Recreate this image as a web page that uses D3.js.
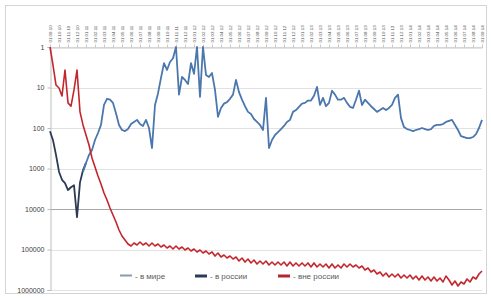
<!DOCTYPE html>
<html lang="ru">
<meta charset="utf-8">
<head>
<script src="https://d3js.org/d3.v7.min.js"></script>
<style>
  body { margin: 0; background: #fff; }
  svg text { font-family: "Liberation Sans", Arial, sans-serif; }
</style>
</head>
<body>
<div id="chart"></div>
<script>

// date labels on top axis (one every 3rd point)
var dateLabels = ["01.09.10","01.10.10","01.11.10","01.12.10","01.01.11","01.02.11","01.03.11","01.04.11",
  "01.05.11","01.06.11","01.07.11","01.08.11","01.09.11","01.10.11","01.11.11","01.12.11","01.01.12",
  "01.02.12","01.03.12","01.04.12","01.05.12","01.06.12","01.07.12","01.08.12","01.09.12","01.10.12",
  "01.11.12","01.12.12","01.01.13","01.02.13","01.03.13","01.04.13","01.05.13","01.06.13","01.07.13",
  "01.08.13","01.09.13","01.10.13","01.11.13","01.12.13","01.01.14","01.02.14","01.03.14","01.04.14",
  "01.05.14","01.06.14","01.07.14","01.08.14","01.09.14"]

var yTicks = [1, 10, 100, 1000, 10000, 100000, 1000000]
var seriesNames = ["- в мире", "- в россии", "- вне россии"]

// blue line, starts at point 11
var blueStart = 11
var blue = [1220, 731, 464, 349, 198, 133, 84, 27, 19, 20, 24, 43, 84, 112, 119, 106, 80, 71, 63, 80,
  89, 63, 100, 312, 27, 14, 5.8, 2.5, 3.7, 2.35, 1.9, 1, 15, 5.5, 6.5, 8.2, 2.5, 4.6, 1, 17,
  1, 4.9, 5.5, 4.4, 11.5, 53, 32, 25, 23, 19, 15, 6.5, 13, 20, 29, 40, 45, 60, 71, 84,
  112, 18, 312, 198, 149, 126, 106, 89, 71, 63, 40, 36, 30, 25, 24, 21, 21, 16, 9.7, 27,
  18, 29, 24, 12, 15, 20, 20, 18, 24, 30, 32, 20, 12, 27, 20, 24, 29, 34, 40, 36,
  32, 36, 32, 27, 18, 15, 57, 95, 106, 112, 119, 112, 106, 100, 106, 112, 106, 89, 84, 84,
  80, 71, 67, 63, 84, 112, 158, 167, 177, 177, 167, 141, 100, 63]

// dark line, points 0..12
var dark = [120, 200, 460, 1200, 1900, 2300, 3400, 2900, 2600, 16000, 2200, 1100, 730]

// red line, all points
var red = [1, 2.8, 8.7, 10.3, 16.2, 3.7, 24, 29, 11.5, 3.7, 40, 84, 149, 263, 550, 918, 1531, 2414, 4027, 5998,
  9444, 14060, 20940, 33000, 46400, 58300, 73100, 82000, 69100, 77500, 65300, 77500, 69100, 82000, 69100, 82000, 73100, 86700, 77500, 91800,
  82000, 97100, 82000, 97100, 86700, 103000, 91800, 109000, 97100, 115000, 103000, 122000, 109000, 129000, 115000, 145000, 122000, 153000, 137000, 162000,
  145000, 172000, 153000, 192000, 162000, 204000, 172000, 215000, 182000, 228000, 192000, 228000, 192000, 241000, 204000, 241000, 204000, 241000, 204000, 255000,
  204000, 255000, 215000, 255000, 215000, 255000, 215000, 270000, 215000, 270000, 228000, 270000, 228000, 286000, 228000, 286000, 241000, 286000, 228000, 270000,
  228000, 270000, 241000, 286000, 255000, 321000, 286000, 359000, 321000, 403000, 359000, 451000, 380000, 478000, 403000, 478000, 403000, 506000, 426000, 506000,
  426000, 535000, 451000, 566000, 451000, 566000, 478000, 600000, 478000, 600000, 506000, 634000, 451000, 566000, 753000, 600000, 797000, 634000, 711000, 535000,
  634000, 478000, 535000, 403000, 340000]

var W = 491, H = 298
var svg = d3.select("#chart").append("svg").attr("width", W).attr("height", H)

// outer chart border
svg.append("rect").attr("x", 5.5).attr("y", 5.5).attr("width", 481).attr("height", 288)
  .attr("fill", "#fff").attr("stroke", "#d4d4d4")

var x = d3.scaleLinear().domain([0, red.length - 1]).range([50, 482])
var y = d3.scaleLog().domain([1, 1000000]).range([47, 290])

// gridlines
svg.append("g").selectAll("line").data(yTicks).enter().append("line")
  .attr("x1", 50).attr("x2", 482)
  .attr("y1", d => Math.round(y(d)) + 0.5).attr("y2", d => Math.round(y(d)) + 0.5)
  .attr("stroke", d => d == 10000 ? "#a8a8a8" : "#e2e2e2")

// left axis
var yAxis = svg.append("g").attr("transform", "translate(50.5,0)")
  .call(d3.axisLeft(y).tickValues(yTicks).tickFormat(d3.format("d")).tickSize(3))
yAxis.select(".domain").attr("stroke", "#bdbdbd")
yAxis.selectAll(".tick line").attr("stroke", "#bdbdbd")
yAxis.selectAll("text").attr("fill", "#404040").style("font-size", "7px").attr("x", -6)

// top axis with rotated date labels (small text, scaled down)
var tickIdx = dateLabels.map((d, i) => i * 3)
var topAxis = svg.append("g").attr("transform", "translate(0,47.5)")
  .call(d3.axisTop(x).tickValues(tickIdx).tickFormat((d, i) => dateLabels[i]).tickSize(3))
topAxis.select(".domain").attr("stroke", "#c8c8c8")
topAxis.selectAll(".tick line").attr("stroke", "#c8c8c8")
topAxis.selectAll("text")
  .attr("fill", "#505050").style("font-size", "8px")
  .attr("transform", "translate(0,-5) rotate(-90) scale(0.55)")
  .attr("x", 0).attr("y", 0).attr("dy", "0.35em")
  .style("text-anchor", "start")

function drawLine(vals, start, color, width) {
  var line = d3.line().x((d, i) => x(i + start)).y(d => y(d))
  svg.append("path").datum(vals).attr("d", line)
    .attr("fill", "none").attr("stroke", color).attr("stroke-width", width)
    .attr("stroke-linejoin", "round")
}

drawLine(dark, 0, "#2c3b55", 1.8)
drawLine(blue, blueStart, "#4a77ae", 1.8)
drawLine(red, 0, "#c3262c", 1.6)

// legend
var legendX = [120, 195, 278]
var legendCol = ["#8d9bb0", "#2c3b55", "#b5262c"]
var lg = svg.append("g").selectAll("g").data(seriesNames).enter().append("g")
  .attr("transform", (d, i) => "translate(" + legendX[i] + ",276)")
lg.append("rect").attr("x", 0).attr("y", -1.5).attr("width", 12).attr("height", (d, i) => i == 0 ? 2 : 3)
  .attr("fill", (d, i) => legendCol[i])
lg.append("text").attr("x", 15).attr("y", 0).attr("dy", "0.35em")
  .attr("fill", "#595959").style("font-size", "8px").text(d => d)

</script>
</body>
</html>
